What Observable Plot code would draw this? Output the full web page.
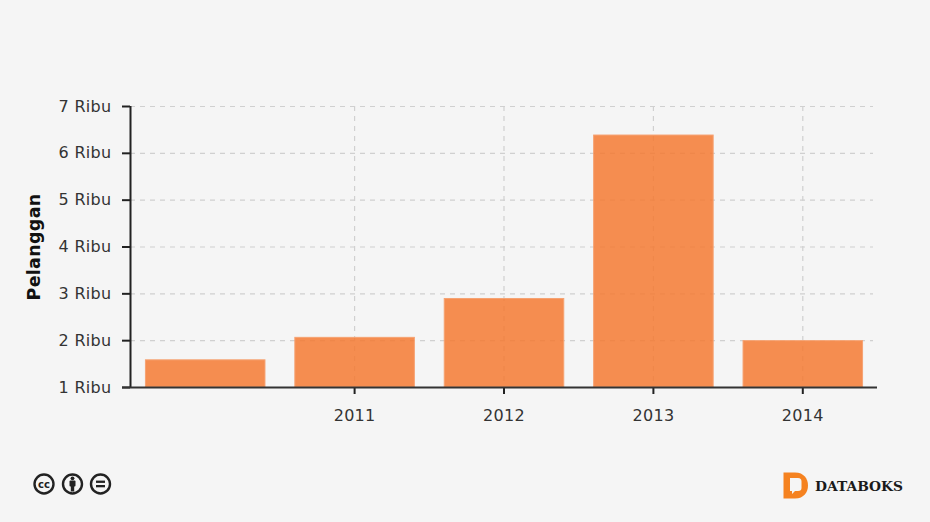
<!doctype html>
<html><head><meta charset="utf-8">
<script src="https://cdn.jsdelivr.net/npm/d3@7"></script>
<script src="https://cdn.jsdelivr.net/npm/@observablehq/plot@0.6"></script>
<style>
html,body{margin:0;padding:0;background:#f5f5f5;width:930px;height:522px;overflow:hidden}
#wrap{position:relative;width:930px;height:522px}
#wrap svg{position:absolute;left:0;top:0}
</style></head><body><div id="wrap">
<div id="chart"></div>
<svg id="cc" width="90" height="30" style="left:28px;top:469px">
 <g fill="none" stroke="#222" stroke-width="2.400">
  <circle cx="16" cy="15" r="9.500"/><circle cx="44.500" cy="15" r="9.500"/><circle cx="72.500" cy="15" r="9.500"/>
 </g>
 <text x="16" y="18.600" text-anchor="middle" font-family="DejaVu Sans" font-weight="bold" font-size="10" fill="#222">cc</text>
 <g fill="#222"><circle cx="44.500" cy="9.300" r="1.900"/><rect x="41.500" y="11.600" width="6" height="5.800" rx="1"/><rect x="42.800" y="16" width="3.400" height="6.500"/>
 <rect x="68" y="11.600" width="9" height="2.300"/><rect x="68" y="16" width="9" height="2.300"/></g>
</svg>
<svg id="logo" width="130" height="32" style="left:780px;top:469px">
 <path d="M3.500 3.500 H15 C24 3.500 28 10 28 16.500 C28 23 24 29.500 15 29.500 H3.500 Z" fill="#f58220"/>
 <path d="M10 9 H18 C20.500 9 21.500 10.500 21.500 12.500 V19 C21.500 21 20.500 22 18 22 H15 L12 25 V22 H10 Z" fill="#f5f5f5"/>
 <text x="35" y="22" font-family="DejaVu Serif" font-weight="bold" font-size="13.800" fill="#1a1a1a">DATABOKS</text>
</svg>
</div>
<script>
const years = ["2010", "2011", "2012", "2013", "2014"];
const customers = [1580, 2060, 2890, 6380, 1990];
const labelledYears = ["2011", "2012", "2013", "2014"];
const yTicks = [1000, 2000, 3000, 4000, 5000, 6000, 7000];
const yTitle = "Pelanggan";
const rows = years.map((year, i) => ({year, value: customers[i]}));

const chart = Plot.plot({
  width: 930, height: 522,
  marginLeft: 130, marginRight: 53, marginTop: 106, marginBottom: 135,
  style: {background: "#f5f5f5", fontFamily: "DejaVu Sans, Verdana, sans-serif", fontSize: "16px", letterSpacing: "0.3px", overflow: "visible"},
  x: {type: "band", domain: years, paddingInner: 0.2, paddingOuter: 0.1, align: 0.5, round: false},
  y: {type: "linear", domain: [1000, 7000]},
  marks: [
    Plot.ruleY(yTicks.slice(1), {y: d => d, insetRight: 4, stroke: "#d0d0d0", strokeWidth: 1.200, strokeDasharray: "5,5"}),
    Plot.ruleX(labelledYears, {x: d => d, stroke: "#d0d0d0", strokeWidth: 1.200, strokeDasharray: "5,5"}),
    Plot.barY(rows, {x: "year", y1: 1000, y2: "value", dx: 0.5, fill: "#f47a33", fillOpacity: 0.85, stroke: "#f6a272", strokeWidth: 1}),
    Plot.axisY({ticks: yTicks, tickSize: 8, tickPadding: 11, fontSize: 16, strokeWidth: 2, stroke: "#222", color: "#333", tickFormat: d => `${d / 1000} Ribu`, label: null}),
    Plot.axisX({ticks: labelledYears, tickSize: 7, tickPadding: 15, fontSize: 16, strokeWidth: 2, stroke: "#222", color: "#333", label: null}),
    Plot.ruleX([years[0]], {x: () => years[0], y1: 1000, y2: 7000, dx: -74.700, stroke: "#222", strokeWidth: 2}),
    Plot.ruleY([1000], {insetLeft: -8, stroke: "#333", strokeWidth: 2}),
    Plot.text([yTitle], {text: d => d, frameAnchor: "left", textAnchor: "middle", rotate: -90, dx: -96, fontWeight: "bold", fontSize: 17.500, fill: "#111"})
  ]
});
document.getElementById("chart").appendChild(chart);
</script></body></html>
